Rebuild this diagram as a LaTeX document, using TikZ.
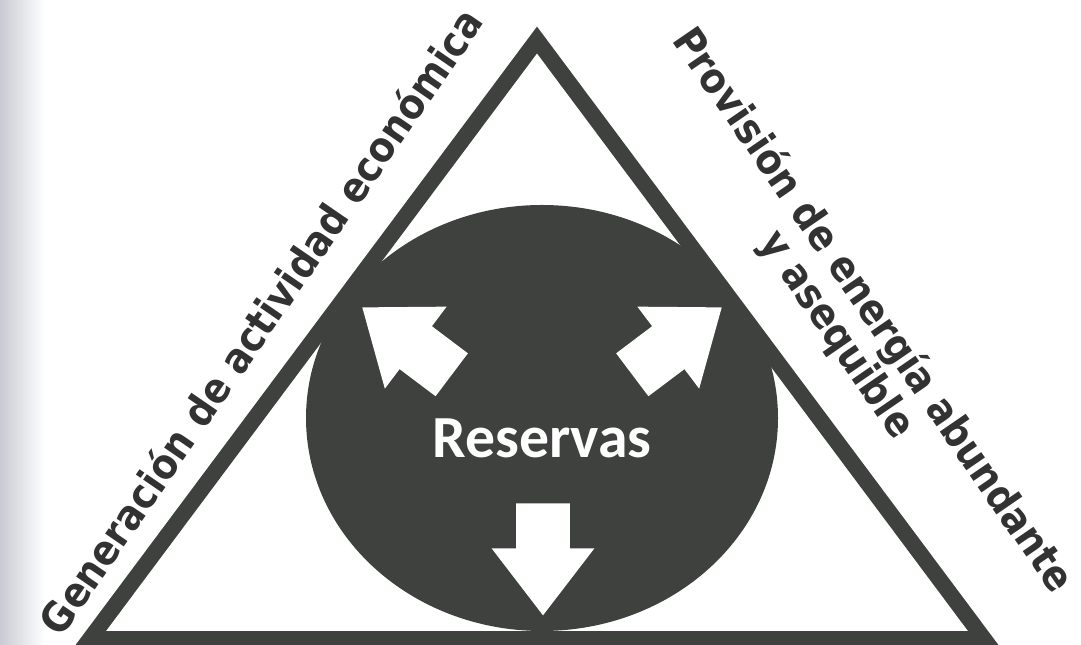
\documentclass[tikz,border=0pt]{standalone}
\usepackage{fontspec}
\setmainfont{DejaVu Sans}
\newfontfamily\sidefont[FakeStretch=0.9]{DejaVu Sans}
\newfontfamily\reservasfont{Carlito}
\usetikzlibrary{shapes.arrows}
\definecolor{darkfill}{RGB}{62,65,61}
\definecolor{labelgray}{RGB}{50,50,50}
\definecolor{scanedge}{RGB}{200,203,210}
\tikzset{
  sidelabel/.style={font=\sidefont\bfseries\fontsize{23.6}{24.5}\selectfont, text=labelgray, inner sep=0pt, align=center},
  bigarrow/.style={single arrow, fill=white, draw=none, inner xsep=0pt, inner ysep=0.53cm, minimum height=2.24cm, single arrow head extend=0.49cm, single arrow tip angle=75, anchor=tail}
}
\begin{document}
\begin{tikzpicture}[x=0.02cm,y=0.02cm]
    \useasboundingbox (0,0) rectangle (1081,645);
    \clip (0,0) rectangle (1081,645);
    % scanned page edge
    \shade [left color=scanedge, right color=white] (0,0) rectangle (45,645);
    % reserves circle and triangle
    \fill [darkfill] (542,227) ellipse [x radius=236, y radius=213];
    \coordinate (apex) at (537,605);
    \coordinate (bl) at (90,6);
    \coordinate (br) at (984,6);
    \draw [darkfill, line width=0.32cm] (apex) -- (bl) -- (br) -- cycle;
    \node [bigarrow, rotate=143] (arrUL) at (452,270) {};
    \node [bigarrow, rotate=37] (arrUR) at (632,270) {};
    \node [bigarrow, rotate=-90] (arrDown) at (543,142) {};
    \node [text=white, inner sep=0pt, font=\reservasfont\bfseries\fontsize{34}{40}\selectfont] (reservas) at (542,207) {Reservas};
    \node [sidelabel, rotate=55.5] (actividad) at (260,324) {Generación de actividad económica};
    \node [sidelabel, rotate=-55.5] (energia) at (854,322) {Provisión de energía abundante\\y asequible};
\end{tikzpicture}
\end{document}
